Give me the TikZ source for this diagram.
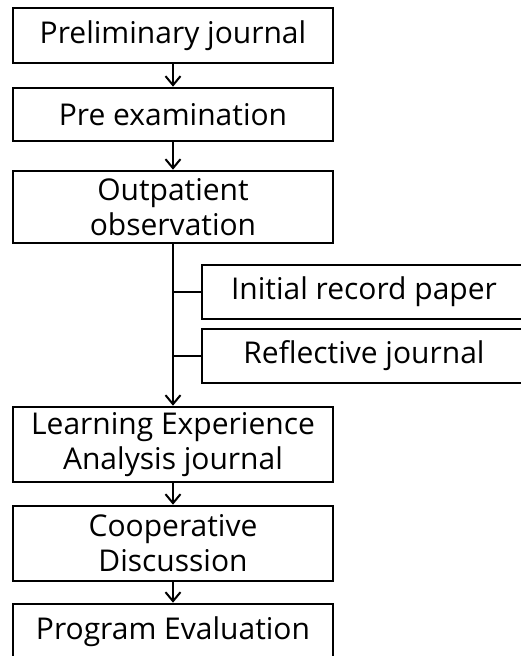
\documentclass[tikz,border=0pt]{standalone}
\usepackage{fontspec}
\setmainfont{Open Sans}
\usetikzlibrary{arrows.meta}

\tikzset{
	stepbox/.style = {draw, line width = 2.6pt, align = center, inner sep = 0pt,
		minimum width = 320pt, font = \fontsize{30}{35}\selectfont},
	link/.style = {line width = 2pt}
}

\begin{document}
\begin{tikzpicture}[x = 1pt, y = -1pt, > = {Straight Barb[length = 9pt, width = 15pt, line width = 2pt]}]
\useasboundingbox (0, 0) rectangle (520, 656);

	% Main steps

	\node [stepbox, minimum height = 55pt] (prelim) at (173, 35.5) {Preliminary journal};
	\node [stepbox, minimum height = 53pt] (preexam) at (173, 114.5) {Pre examination};
	\node [stepbox, minimum height = 72pt] (outpat) at (173, 207) {Outpatient\\observation};
	\node [stepbox, minimum height = 75pt] (learn) at (173, 444.5) {Learning Experience\\Analysis journal};
	\node [stepbox, minimum height = 75pt] (coop) at (173, 543.5) {Cooperative\\Discussion};
	\node [stepbox, minimum height = 56pt] (progeval) at (173, 632) {Program Evaluation};

	% Side records

	\node [stepbox, minimum width = 324pt, minimum height = 54pt] (initrec) at (364, 292) {Initial record paper};
	\node [stepbox, minimum width = 324pt, minimum height = 54pt] (reflect) at (364, 356) {Reflective journal};

	% Arrows between steps

	\draw [link, ->] (prelim) -- (preexam);
	\draw [link, ->] (preexam) -- (outpat);
	\draw [link, ->] (outpat) -- (learn);
	\draw [link, ->] (learn) -- (coop);
	\draw [link, ->] (coop) -- (progeval);

	% Branches to records

	\draw [link] (initrec.west) -- (initrec.west -| outpat.south);
	\draw [link] (reflect.west) -- (reflect.west -| outpat.south);

\end{tikzpicture}
\end{document}
